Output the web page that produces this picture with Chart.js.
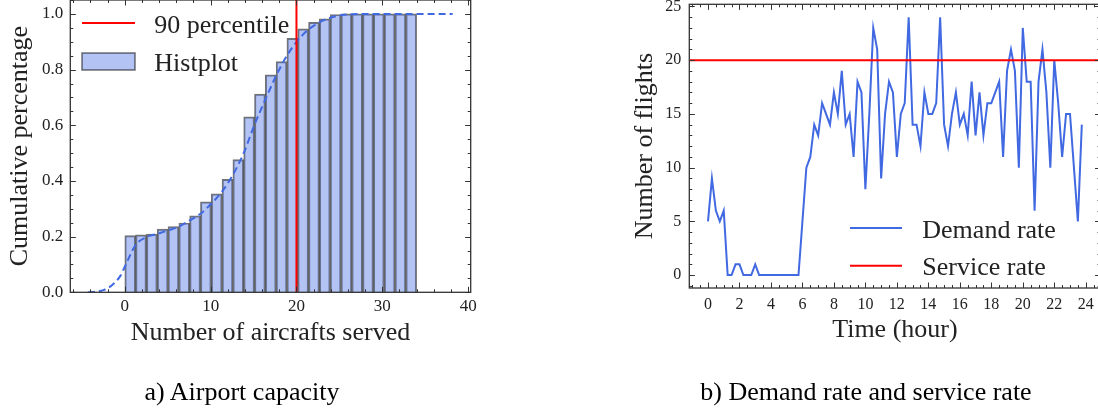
<!DOCTYPE html>
<html>
<head>
<meta charset="utf-8">
<script src="https://cdn.jsdelivr.net/npm/chart.js@4.4.1/dist/chart.umd.min.js"></script>
<style>
  html, body { margin: 0; padding: 0; background: #fff; overflow: hidden; width: 1098px; height: 415px; }
  canvas { position: absolute; top: 0; }
  #capacity { left: 0; }
  #demand { left: 600px; }
  .caption {
    position: absolute; top: 379px; color: #000; white-space: nowrap;
    font: 26px/26px "Liberation Serif", "Times New Roman", serif;
    transform: translateX(-50%);
  }
</style>
</head>
<body>
<canvas id="capacity" width="490" height="415"></canvas>
<canvas id="demand" width="512" height="415"></canvas>
<div class="caption" style="left:242px">a) Airport capacity</div>
<div class="caption" style="left:866px">b) Demand rate and service rate</div>
<script>
// ---- a) Airport capacity ----
// cumulative histogram, 27 bins from 0 to 34 aircrafts
const binStart = 0;
const binEnd = 34;
const cdfHeights = [0.204, 0.206, 0.209, 0.227, 0.236, 0.249, 0.275, 0.325, 0.354, 0.406,
                    0.477, 0.630, 0.712, 0.781, 0.829, 0.912, 0.946, 0.970, 0.982, 0.998,
                    1.0, 1.0, 1.0, 1.0, 1.0, 1.0, 1.0];
// cumulative kde (dashed)
const kdeX = [-4.3, -3.5, -2.5, -1.5, -0.5, 0, 1.26, 2.52, 3.78, 5.04, 6.3, 7.56, 8.81, 10.07,
              11.33, 12.59, 13.85, 15.11, 16.37, 17.63, 18.89, 20.15, 21.41, 22.67, 23.93,
              25.19, 26.44, 28, 30, 38.2];
const kdeY = [0, 0.002, 0.008, 0.025, 0.06, 0.092, 0.17, 0.198, 0.21, 0.222, 0.236, 0.258,
              0.282, 0.318, 0.362, 0.422, 0.5, 0.602, 0.692, 0.778, 0.85, 0.905, 0.944, 0.97,
              0.986, 0.995, 0.999, 1.0, 1.0, 1.0];
const percentile90 = 20;
const capXTicks = [0, 10, 20, 30, 40];
const capYTicks = [0, 0.2, 0.4, 0.6, 0.8, 1.0];
const capYLabels = ['0.0', '0.2', '0.4', '0.6', '0.8', '1.0'];

// ---- b) Demand rate and service rate ----
const stepHours = 0.25; // one value every 15 minutes
const demandRate = [5, 9, 6, 5, 6, 0, 0, 1, 1, 0, 0, 0, 1, 0, 0, 0, 0, 0, 0, 0, 0, 0, 0, 0,
                    5, 10, 11, 14, 13, 16, 15, 14, 17, 15, 19, 14, 15, 11, 18, 17, 8, 15,
                    23, 21, 9, 15, 18, 17, 11, 15, 16, 24, 14, 14, 12, 17, 15, 15, 16, 24,
                    14, 12, 15, 17, 14, 15, 13, 18, 13, 17, 13, 16, 16, 17, 18, 11, 19, 21,
                    19, 10, 23, 18, 18, 6, 18, 21, 17, 10, 20, 16, 11, 15, 15, 10, 5, 14];
const serviceRate = 20;
const timeTicks = [0, 2, 4, 6, 8, 10, 12, 14, 16, 18, 20, 22, 24];
const flightTicks = [0, 5, 10, 15, 20, 25];

const SERIF = '"Liberation Serif", "Times New Roman", serif';
const BLUE = '#4169e1';
const RED = '#ff0000';
const INK = '#222';

// fixed axis sizes so the plot box lands where it should
function fixedAxis(size) {
    return s => {
        if (s.isHorizontal()) s.height = size; else s.width = size;
        s.paddingLeft = s.paddingRight = s.paddingTop = s.paddingBottom = 0;
    };
}
function setTicks(values) {
    return s => { s.ticks = values.map(v => ({ value: v })); };
}

// box around the plot with inward major/minor ticks on all four sides
const sciFrame = {
    id: 'sciFrame',
    afterDatasetsDraw(chart, args, opts) {
        const { ctx, chartArea: a, scales: { x, y } } = chart;
        ctx.save();
        ctx.strokeStyle = '#333';
        ctx.lineWidth = 1;
        const seg = (x1, y1, x2, y2) => { ctx.beginPath(); ctx.moveTo(x1, y1); ctx.lineTo(x2, y2); ctx.stroke(); };
        const isMajor = (scale, v) => scale.ticks.some(t => Math.abs(t.value - v) < 1e-6);

        for (let n = Math.ceil(x.min / opts.xMinor); n * opts.xMinor <= x.max; n++) {
            const v = n * opts.xMinor;
            const px = Math.round(x.getPixelForValue(v)) + 0.5;
            const len = isMajor(x, v) ? 5.5 : 3;
            seg(px, a.bottom, px, a.bottom - len);
            seg(px, a.top, px, a.top + len);
        }
        for (let n = Math.ceil(y.min / opts.yMinor - 1e-6); n * opts.yMinor <= y.max + 1e-6; n++) {
            const v = n * opts.yMinor;
            const py = Math.round(y.getPixelForValue(v)) + 0.5;
            const len = isMajor(y, v) ? 5.5 : 3;
            seg(a.left, py, a.left + len, py);
            seg(a.right, py, a.right - len, py);
        }
        ctx.lineWidth = 1.3;
        ctx.strokeRect(a.left, a.top, a.right - a.left, a.bottom - a.top);
        ctx.restore();
    }
};

// legend drawn inside the plot, without a frame
const innerLegend = {
    id: 'innerLegend',
    afterDraw(chart, args, opts) {
        const { ctx, chartArea: a } = chart;
        ctx.save();
        ctx.font = '26px ' + SERIF;
        ctx.fillStyle = INK;
        ctx.textBaseline = 'alphabetic';
        opts.items.forEach((it, i) => {
            const ds = chart.data.datasets[it.dataset];
            const cy = a.top + opts.y + i * opts.rowGap;
            const x1 = a.left + opts.x;
            const x2 = x1 + opts.symbolWidth;
            if (it.kind === 'patch') {
                ctx.fillStyle = ds.backgroundColor;
                ctx.fillRect(x1, cy - 8.5, x2 - x1, 17);
                ctx.strokeStyle = ds.borderColor;
                ctx.lineWidth = 1.5;
                ctx.strokeRect(x1, cy - 8.5, x2 - x1, 17);
            } else {
                ctx.strokeStyle = ds.borderColor;
                ctx.lineWidth = 2;
                ctx.beginPath(); ctx.moveTo(x1, cy); ctx.lineTo(x2, cy); ctx.stroke();
            }
            ctx.fillStyle = INK;
            ctx.fillText(ds.label, a.left + opts.textX, cy + opts.baseline);
        });
        ctx.restore();
    }
};

Chart.register(sciFrame, innerLegend);
Chart.defaults.font.family = SERIF;
Chart.defaults.color = INK;

const binWidth = (binEnd - binStart) / cdfHeights.length;
const binCenters = cdfHeights.map((_, i) => binStart + (i + 0.5) * binWidth);
const capYMax = 1.05;

new Chart(document.getElementById('capacity'), {
    type: 'bar',
    data: {
        datasets: [
            {
                type: 'line', label: '90 percentile', order: 0,
                data: [{ x: percentile90, y: 0 }, { x: percentile90, y: capYMax }],
                borderColor: RED, borderWidth: 2, pointRadius: 0
            },
            {
                type: 'line', label: 'KDE', order: 1,
                data: kdeX.map((x, i) => ({ x, y: kdeY[i] })),
                borderColor: BLUE, borderWidth: 2, borderDash: [7, 4], pointRadius: 0,
                cubicInterpolationMode: 'monotone'
            },
            {
                type: 'bar', label: 'Histplot', order: 2,
                data: binCenters.map((x, i) => ({ x, y: cdfHeights[i] })),
                backgroundColor: 'rgba(65,105,225,0.4)',
                borderColor: 'rgba(0,0,0,0.55)', borderWidth: 1.3,
                barPercentage: 1, categoryPercentage: 1
            }
        ]
    },
    options: {
        responsive: false,
        animation: false,
        events: [],
        layout: { autoPadding: false, padding: { left: 5, right: 19.3, top: 0, bottom: 66.4 } },
        scales: {
            x: {
                type: 'linear', min: -6.35, max: 40.3, offset: false, bounds: 'data',
                grid: { display: false, drawTicks: false },
                border: { display: false },
                ticks: { autoSkip: false, maxRotation: 0, padding: 4, font: { size: 17 },
                         callback: v => String(v) },
                afterBuildTicks: setTicks(capXTicks),
                afterFit: fixedAxis(56.3),
                title: { display: true, text: 'Number of aircrafts served', padding: 0,
                         font: { size: 26, lineHeight: 1.2 } }
            },
            y: {
                type: 'linear', min: 0, max: capYMax, bounds: 'data',
                grid: { display: false, drawTicks: false },
                border: { display: false },
                ticks: { autoSkip: false, padding: 7, font: { size: 17 },
                         callback: (v, i) => capYLabels[i] },
                afterBuildTicks: setTicks(capYTicks),
                afterFit: fixedAxis(65.3),
                title: { display: true, text: 'Cumulative percentage', padding: 0,
                         font: { size: 26, lineHeight: 1.2 } }
            }
        },
        plugins: {
            legend: { display: false },
            tooltip: { enabled: false },
            sciFrame: { xMinor: 2, yMinor: 0.05 },
            innerLegend: {
                x: 11.7, symbolWidth: 53, textX: 84, y: 23, rowGap: 38.5, baseline: 9.5,
                items: [{ dataset: 0, kind: 'line' }, { dataset: 2, kind: 'patch' }]
            }
        }
    }
});

const hours = demandRate.map((_, i) => i * stepHours);
const timeMin = -1.1875;
const timeMax = 24.9375;

new Chart(document.getElementById('demand'), {
    type: 'line',
    data: {
        datasets: [
            {
                label: 'Demand rate', order: 1,
                data: hours.map((h, i) => ({ x: h, y: demandRate[i] })),
                borderColor: BLUE, borderWidth: 2, pointRadius: 0, tension: 0
            },
            {
                label: 'Service rate', order: 0,
                data: [{ x: timeMin, y: serviceRate }, { x: timeMax, y: serviceRate }],
                borderColor: RED, borderWidth: 2, pointRadius: 0
            }
        ]
    },
    options: {
        responsive: false,
        animation: false,
        events: [],
        layout: { autoPadding: false, padding: { left: 29.4, right: 11.5, top: 4.3, bottom: 69.4 } },
        scales: {
            x: {
                type: 'linear', min: timeMin, max: timeMax, bounds: 'data',
                grid: { display: false, drawTicks: false },
                border: { display: false },
                ticks: { autoSkip: false, maxRotation: 0, padding: 7, font: { size: 16 },
                         callback: v => String(v) },
                afterBuildTicks: setTicks(timeTicks),
                afterFit: fixedAxis(57.6),
                title: { display: true, text: 'Time (hour)', padding: 0,
                         font: { size: 26, lineHeight: 1.2 } }
            },
            y: {
                type: 'linear', min: -1.2, max: 25.2, bounds: 'data',
                grid: { display: false, drawTicks: false },
                border: { display: false },
                ticks: { autoSkip: false, padding: 8, font: { size: 16 },
                         callback: v => String(v) },
                afterBuildTicks: setTicks(flightTicks),
                afterFit: fixedAxis(59.9),
                title: { display: true, text: 'Number of flights', padding: 0,
                         font: { size: 26, lineHeight: 1.2 } }
            }
        },
        plugins: {
            legend: { display: false },
            tooltip: { enabled: false },
            sciFrame: { xMinor: 0.5, yMinor: 1 },
            innerLegend: {
                x: 160.7, symbolWidth: 52, textX: 233, y: 223.7, rowGap: 37.7, baseline: 9.7,
                items: [{ dataset: 0, kind: 'line' }, { dataset: 1, kind: 'line' }]
            }
        }
    }
});
</script>
</body>
</html>
